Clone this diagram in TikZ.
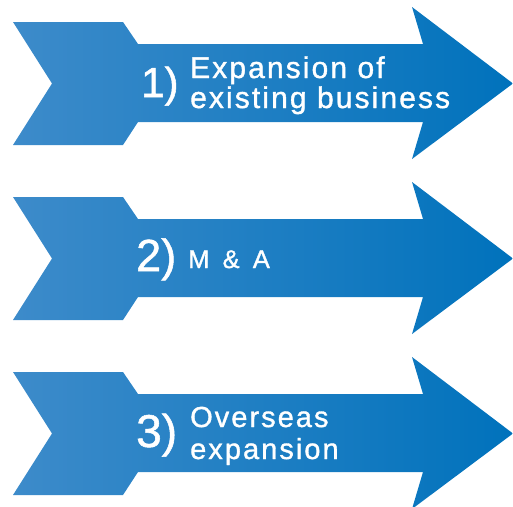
\documentclass[tikz,border=0pt]{standalone}
\usepackage{fontspec}
\setmainfont{Liberation Sans}[FakeBold=1.2]
\newfontfamily\stepfont[LetterSpace=7,FakeBold=1.2]{Liberation Sans}
\newfontfamily\wideletters[LetterSpace=24,FakeBold=1.2]{Liberation Sans}
\definecolor{arrowleft}{RGB}{61,139,202}
\definecolor{arrowright}{RGB}{0,114,188}

\begin{document}
\begin{tikzpicture}[x=1pt,y=-1pt,
  arrowbody/.style={left color=arrowleft,right color=arrowright,draw=none},
  num/.style={text=white,inner sep=0pt,anchor=base west},
  txt/.style={text=white,inner sep=0pt,anchor=base west,align=left}]
  \useasboundingbox (0,0) rectangle (513,506);
  \foreach \c in {83.5,258.5,433.5}
    \shade[arrowbody] (13,\c-61.5) -- (123,\c-61.5) -- (138,\c-39.5) -- (423,\c-39.5)
      -- (412,\c-76.5) -- (513,\c) -- (412,\c+75.5) -- (423,\c+38.5)
      -- (138,\c+38.5) -- (123,\c+61.5) -- (13,\c+61.5) -- (52,\c) -- cycle;
  % step labels (base of a two-line node is its last line)
  \node[num,font=\fontsize{42}{42}\selectfont] (n1) at (141,97) {1)};
  \node[txt,font=\stepfont\fontsize{30}{30}\selectfont] (t1) at (190,108) {Expansion of\\existing business};
  \node[num,font=\fontsize{45}{45}\selectfont] (n2) at (136,271) {2)};
  \node[txt,font=\wideletters\fontsize{25.5}{26}\selectfont] (t2) at (188,268) {M \& A};
  \node[num,font=\fontsize{46}{46}\selectfont] (n3) at (136,447) {3)};
  \node[txt,font=\stepfont\fontsize{29}{32}\selectfont] (t3) at (190,459) {Overseas\\expansion};
\end{tikzpicture}
\end{document}
